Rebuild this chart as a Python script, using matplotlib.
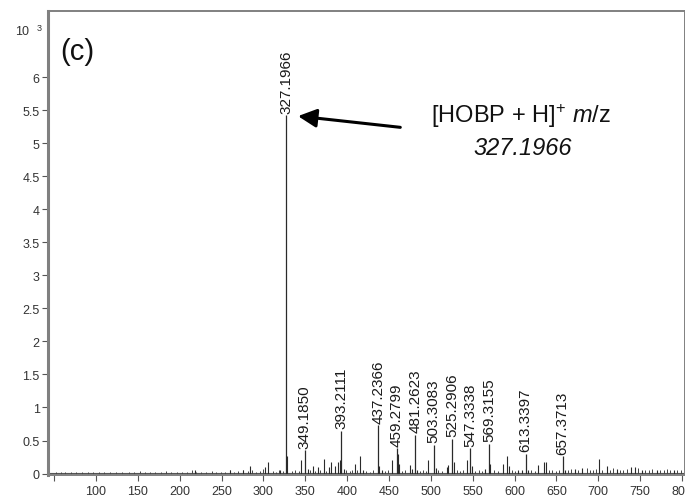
import matplotlib
matplotlib.use('Agg')
from matplotlib import pyplot as plt

plt.rcParams['font.family'] = ['Liberation Sans', 'DejaVu Sans']
plt.rcParams['mathtext.fontset'] = 'custom'
plt.rcParams['mathtext.rm'] = 'Liberation Sans'
plt.rcParams['mathtext.it'] = 'Liberation Sans:italic'

# labelled peaks (m/z, intensity x 10^3)
peak_mz = [327.1966, 349.1850, 393.2111, 437.2366, 459.2799, 481.2623,
           503.3083, 525.2906, 547.3338, 569.3155, 613.3397, 657.3713]
peak_int = [5.42, 0.35, 0.65, 0.73, 0.38, 0.58, 0.44, 0.53, 0.38, 0.45, 0.30, 0.26]

# smaller unlabelled peaks
minor_mz = [218.6, 260, 275.6, 284, 302, 305.8, 320, 328.2, 345.2, 353.5,
            359.5, 365, 372.5, 378.5, 381, 385.6, 389.6, 391.5, 396, 409.6,
            415.6, 419, 438.5, 441.7, 453.5, 460.8, 462, 475.5, 477.5, 484,
            497, 505.6, 519.5, 521, 527.2, 542.6, 549.5, 565, 571, 586.6,
            591.3, 593.7, 604.5, 609, 616.5, 628.5, 635.5, 637.9, 660.6, 672.5,
            680.9, 701, 710.8, 722.7, 739.4, 744, 752, 770, 791]
minor_int = [0.05, 0.05, 0.05, 0.12, 0.1, 0.18, 0.05, 0.27, 0.2, 0.07,
             0.12, 0.1, 0.22, 0.1, 0.17, 0.12, 0.17, 0.2, 0.07, 0.14,
             0.26, 0.05, 0.12, 0.06, 0.2, 0.3, 0.15, 0.13, 0.07, 0.05,
             0.21, 0.08, 0.1, 0.13, 0.17, 0.2, 0.12, 0.07, 0.14, 0.15,
             0.26, 0.12, 0.05, 0.06, 0.06, 0.13, 0.18, 0.17, 0.06, 0.07,
             0.08, 0.22, 0.11, 0.07, 0.1, 0.1, 0.06, 0.05, 0.06]

# baseline noise
noise_mz = [52, 58, 63, 70, 76, 83, 90, 97, 104, 110,
            117, 124, 131, 139, 146, 152, 158, 165, 171, 178,
            184, 190, 197, 203, 209, 215, 220, 226, 232, 238,
            243, 249, 254, 260, 265, 270, 276, 281, 286, 291,
            296, 300, 311, 315, 319, 323, 334, 338, 342, 356,
            362, 368, 375, 399, 403, 406, 412, 423, 427, 431,
            445, 449, 465, 469, 487, 491, 494, 509, 513, 531,
            535, 538, 553, 557, 561, 576, 580, 597, 601, 620,
            624, 641, 645, 650, 653, 664, 668, 676, 686, 690,
            694, 697, 705, 714, 718, 726, 730, 734, 747, 756,
            760, 764, 774, 778, 782, 786, 794, 799]
noise_int = [0.03, 0.02, 0.02, 0.03, 0.02, 0.03, 0.02, 0.02, 0.03, 0.02,
             0.03, 0.02, 0.02, 0.03, 0.02, 0.04, 0.02, 0.03, 0.02, 0.03,
             0.04, 0.02, 0.03, 0.02, 0.03, 0.06, 0.02, 0.03, 0.02, 0.04,
             0.03, 0.02, 0.03, 0.05, 0.03, 0.04, 0.05, 0.04, 0.05, 0.03,
             0.04, 0.07, 0.04, 0.03, 0.05, 0.04, 0.04, 0.05, 0.04, 0.05,
             0.04, 0.06, 0.04, 0.05, 0.04, 0.06, 0.05, 0.04, 0.03, 0.05,
             0.04, 0.05, 0.04, 0.05, 0.04, 0.05, 0.04, 0.05, 0.04, 0.05,
             0.04, 0.06, 0.04, 0.05, 0.04, 0.05, 0.04, 0.05, 0.04, 0.05,
             0.04, 0.05, 0.06, 0.04, 0.05, 0.06, 0.07, 0.05, 0.08, 0.06,
             0.05, 0.07, 0.05, 0.06, 0.08, 0.05, 0.06, 0.07, 0.08, 0.05,
             0.06, 0.07, 0.05, 0.06, 0.07, 0.05, 0.06, 0.05]

x_ticks = [50, 100, 150, 200, 250, 300, 350, 400, 450, 500, 550, 600, 650, 700, 750, 800]
x_tick_labels = [''] + [str(t) for t in x_ticks[1:]]
y_ticks = [0, 0.5, 1, 1.5, 2, 2.5, 3, 3.5, 4, 4.5, 5, 5.5, 6]
y_tick_labels = ['0', '0.5', '1', '1.5', '2', '2.5', '3', '3.5', '4', '4.5', '5', '5.5', '6']

fig = plt.figure(figsize=(6.85, 5.02), dpi=100)
ax = fig.add_axes([0.0701, 0.052, 0.9299, 0.924])
ax.set_xlim(42.7, 803.6)
ax.set_ylim(-0.02, 7.0)

line_col = '#2a2a2a'
ax.axhline(0.008, color='#555555', lw=0.8)
ax.vlines(noise_mz, 0, noise_int, color='#444444', lw=0.7)
ax.vlines(minor_mz, 0, minor_int, color=line_col, lw=0.8)
ax.vlines(peak_mz, 0, peak_int, color=line_col, lw=0.9)

for mz, h in zip(peak_mz, peak_int, strict=True):
    ax.annotate('%.4f' % mz, (mz, h), xytext=(0, 2), textcoords='offset points',
                rotation=90, ha='center', va='bottom', fontsize=11, color='#1a1a1a')

# arrow + formula
ax.annotate('', xy=(341.3, 5.41), xytext=(463.5, 5.24),
            arrowprops=dict(arrowstyle='-|>', lw=2.2, color='black', mutation_scale=28,
                            shrinkA=0, shrinkB=0))
ax.text(608, 5.43, r'[HOBP + H]$^{+}$ $\mathit{m}$/z', fontsize=17, ha='center', va='center',
        color='#111111')
ax.text(609.5, 4.94, '327.1966', fontsize=17, style='italic', ha='center', va='center',
        color='#111111')
ax.text(0.046, 0.914, '(c)', transform=ax.transAxes, fontsize=21, ha='center', va='center',
        color='#111111')

fig.text(15 / 685, 1 - 32 / 502, '10', fontsize=9, ha='left', va='center', color='#333333')
fig.text(37 / 685, 1 - 29 / 502, '3', fontsize=6.5, ha='left', va='center', color='#333333')

ax.set_xticks(x_ticks)
ax.set_xticklabels(x_tick_labels)
ax.set_yticks(y_ticks)
ax.set_yticklabels(y_tick_labels)
ax.tick_params(axis='both', direction='out', length=4, width=0.8, colors='#555555',
               labelsize=9, labelcolor='#333333')
ax.tick_params(axis='x', pad=3)
ax.tick_params(axis='y', pad=2)

for side in ['top', 'right', 'bottom']:
    ax.spines[side].set_color('#808080')
    ax.spines[side].set_linewidth(1.4)
ax.spines['left'].set_color('#808080')
ax.spines['left'].set_linewidth(2.2)

fig.savefig('out.png', dpi=100)
